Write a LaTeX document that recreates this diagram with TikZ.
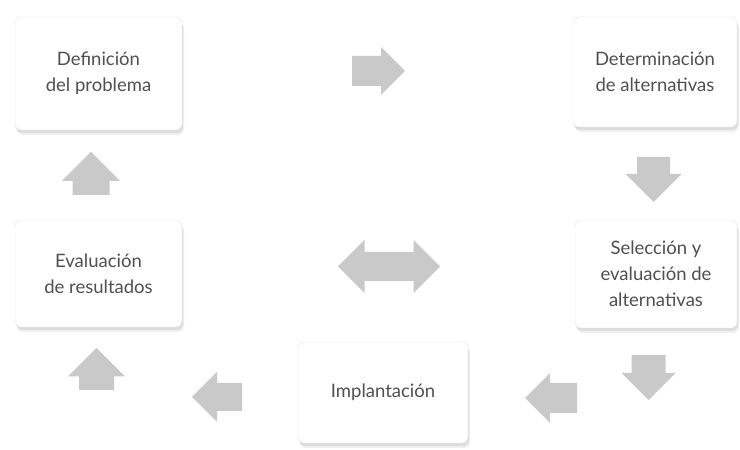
\documentclass[tikz,border=0pt]{standalone}
\usepackage{fontspec}
\setmainfont{Lato}
\usepackage{tikz}
\usetikzlibrary{shadows}
\definecolor{arrowgray}{HTML}{C9C9C9}
\definecolor{boxedge}{HTML}{E4E4E4}
\definecolor{textgray}{HTML}{505050}

\tikzset{
	% block arrow pointing right: length, head width, shaft width
	pics/blkarrow/.style n args={3}{code={
		\fill[arrowgray] (-#1/2,-#3/2) -- ({#1/2-#2/2},-#3/2) -- ({#1/2-#2/2},-#2/2)
			-- (#1/2,0) -- ({#1/2-#2/2},#2/2) -- ({#1/2-#2/2},#3/2) -- (-#1/2,#3/2) -- cycle;
	}},
	pics/dblarrow/.style n args={3}{code={
		\fill[arrowgray] ({-#1/2+#2/2},-#3/2) -- ({#1/2-#2/2},-#3/2) -- ({#1/2-#2/2},-#2/2)
			-- (#1/2,0) -- ({#1/2-#2/2},#2/2) -- ({#1/2-#2/2},#3/2) -- ({-#1/2+#2/2},#3/2)
			-- ({-#1/2+#2/2},#2/2) -- (-#1/2,0) -- ({-#1/2+#2/2},-#2/2) -- cycle;
	}}
}

\begin{document}
\begin{tikzpicture}[x=1pt,y=1pt,
	main node/.style={rectangle,rounded corners=6pt,draw=boxedge,fill=white,
		drop shadow={shadow xshift=2pt,shadow yshift=-5pt,fill=black,opacity=.06},
		drop shadow={shadow xshift=1pt,shadow yshift=-3pt,fill=black,opacity=.08},
		text=textgray,font=\fontsize{18.5}{26}\selectfont,align=center,inner sep=0pt}]
	
	\useasboundingbox (0,0) rectangle (740,450);
	
	% the five steps
	\node[main node,minimum width=167pt,minimum height=113pt] (1) at (98.5,376.5) {Definición\\del problema};
	\node[main node,minimum width=164pt,minimum height=110pt] (2) at (655,378) {Determinación\\de alternativas};
	\node[main node,minimum width=162pt,minimum height=108pt] (3) at (656,176) {Selección y\\evaluación de\\alternativas};
	\node[main node,minimum width=170pt,minimum height=101pt] (4) at (383,57.5) {Implantación};
	\node[main node,minimum width=167pt,minimum height=107pt] (5) at (98.5,176.5) {Evaluación\\de resultados};
	
	% block arrows between them
	\pic (a1) at (378.5,379) {blkarrow={53}{48}{30}};
	\pic[rotate=270] (a2) at (653.5,270.5) {blkarrow={45}{56}{33}};
	\pic[rotate=270] (a3) at (648.5,72.5) {blkarrow={45}{54}{34}};
	\pic[rotate=180] (a4) at (551,52) {blkarrow={52}{50}{30}};
	\pic[rotate=180] (a5) at (217,53) {blkarrow={50}{50}{28}};
	\pic[rotate=90] (a6) at (96.5,81) {blkarrow={42}{57}{35}};
	\pic[rotate=90] (a7) at (91,276.5) {blkarrow={43}{58}{37}};
	\pic (a8) at (389,183.5) {dblarrow={102}{53}{29}};
	
\end{tikzpicture}
\end{document}
